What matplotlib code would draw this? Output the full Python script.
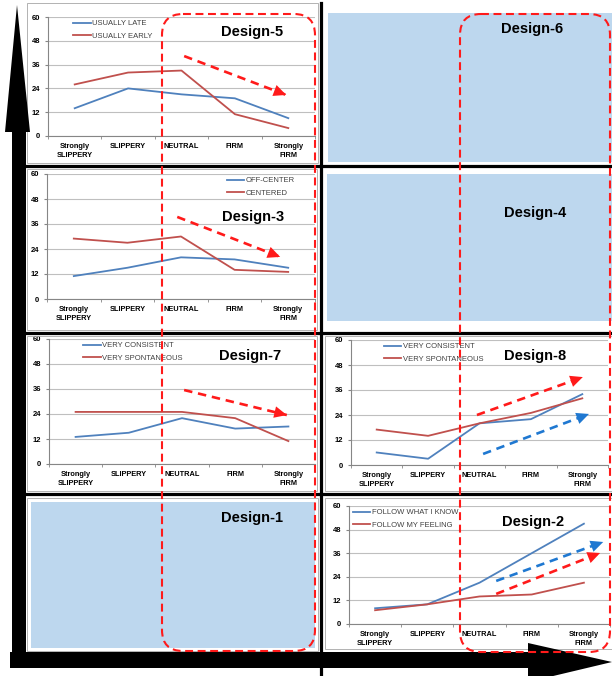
import matplotlib
matplotlib.use('Agg')
import matplotlib.pyplot as plt
from matplotlib.patches import FancyBboxPatch, Polygon, Rectangle

plt.rcParams['font.family'] = ['Liberation Sans', 'DejaVu Sans']

# data
categories = ['Strongly\nSLIPPERY', 'SLIPPERY', 'NEUTRAL', 'FIRM', 'Strongly\nFIRM']
yticks = [0, 12, 24, 36, 48, 60]

d5_late = [14, 24, 21, 19, 9]
d5_early = [26, 32, 33, 11, 4]
d3_off = [11, 15, 20, 19, 15]
d3_centered = [29, 27, 30, 14, 13]
d7_consistent = [13, 15, 22, 17, 18]
d7_spontaneous = [25, 25, 25, 22, 11]
d8_consistent = [6, 3, 20, 22, 34]
d8_spontaneous = [17, 14, 20, 25, 32]
d2_know = [8, 10, 21, 36, 51]
d2_feeling = [7, 10, 14, 15, 21]

BLUE = '#4F81BD'
RED = '#C0504D'
ARROW_RED = '#FF1A1A'
ARROW_BLUE = '#1F78D1'
PANEL = '#BDD7EE'

W, H = 612, 676
fig = plt.figure(figsize=(W / 100, H / 100), dpi=100)


def rect(x0, y0, x1, y1):
    # pixel box (top-left origin) -> figure fraction
    return [x0 / W, 1 - y1 / H, (x1 - x0) / W, (y1 - y0) / H]


def make_chart(box, blue_vals, red_vals, labels, leg_x, leg_y=0.975):
    ax = fig.add_axes(rect(*box), zorder=2)
    x = [i + 0.5 for i in range(len(categories))]
    ax.plot(x, blue_vals, color=BLUE, lw=1.3, label=labels[0], zorder=3)
    ax.plot(x, red_vals, color=RED, lw=1.3, label=labels[1], zorder=3)
    ax.set_xlim(0, 5)
    ax.set_ylim(0, 60)
    ax.set_yticks(yticks)
    ax.set_xticks(x)
    ax.set_xticklabels(categories, fontsize=5.3, fontweight='bold', linespacing=1.5)
    ax.set_xticks(range(6), minor=True)
    ax.tick_params(axis='x', which='major', length=0, pad=5)
    ax.tick_params(axis='x', which='minor', length=2.5, color='#868686')
    ax.tick_params(axis='y', length=2.5, color='#868686', pad=3, labelsize=5.5)
    for t in ax.get_yticklabels():
        t.set_fontweight('bold')
    ax.grid(axis='y', color='#BFBFBF', lw=0.8)
    ax.set_axisbelow(True)
    for s in ['top', 'right']:
        ax.spines[s].set_visible(False)
    for s in ['left', 'bottom']:
        ax.spines[s].set_color('#868686')
        ax.spines[s].set_linewidth(0.8)
    leg = ax.legend(loc='upper left', bbox_to_anchor=(leg_x, leg_y), frameon=False,
                    fontsize=5.5, handlelength=2.3, handletextpad=0.2,
                    labelspacing=0.65, borderaxespad=0, borderpad=0)
    for t in leg.get_texts():
        t.set_color('#404040')
    return ax


def trend_arrow(ax, start, end, color):
    ax.plot([start[0], end[0]], [start[1], end[1]], color=color, lw=1.9,
            linestyle=(0, (3.2, 2.2)), clip_on=False, zorder=5)
    ax.annotate('', xy=end, xytext=(end[0] - (end[0] - start[0]) * 0.1,
                                    end[1] - (end[1] - start[1]) * 0.1),
                arrowprops=dict(arrowstyle='-|>,head_length=0.75,head_width=0.35',
                                color=color, lw=0, shrinkA=0, shrinkB=0,
                                mutation_scale=12),
                annotation_clip=False, zorder=6)


ax5 = make_chart((48, 17, 315, 136), d5_late, d5_early, ['USUALLY LATE', 'USUALLY EARLY'], 0.095)
trend_arrow(ax5, (2.55, 40.3), (4.46, 20.7), ARROW_RED)

ax3 = make_chart((47, 174, 315, 299), d3_off, d3_centered, ['OFF-CENTER', 'CENTERED'], 0.67)
trend_arrow(ax3, (2.43, 39.4), (4.35, 20.2), ARROW_RED)

ax7 = make_chart((49, 339, 315, 464), d7_consistent, d7_spontaneous,
                 ['VERY CONSISTENT', 'VERY SPONTANEOUS'], 0.128)
trend_arrow(ax7, (2.54, 35.5), (4.47, 23.5), ARROW_RED)

ax8 = make_chart((351, 340, 608, 465), d8_consistent, d8_spontaneous,
                 ['VERY CONSISTENT', 'VERY SPONTANEOUS'], 0.128)
trend_arrow(ax8, (2.45, 24.0), (4.51, 42.2), ARROW_RED)
trend_arrow(ax8, (2.57, 5.3), (4.63, 24.5), ARROW_BLUE)

ax2 = make_chart((349, 506, 610, 624), d2_know, d2_feeling,
                 ['FOLLOW WHAT I KNOW', 'FOLLOW MY FEELING'], 0.015)
trend_arrow(ax2, (2.82, 21.9), (4.87, 41.7), ARROW_BLUE)
trend_arrow(ax2, (2.82, 15.3), (4.81, 36.1), ARROW_RED)

# overlay in pixel units for frames, panels, arrows and highlights
ov = fig.add_axes([0, 0, 1, 1], zorder=10)
ov.set_xlim(0, W)
ov.set_ylim(H, 0)
ov.axis('off')
ov.patch.set_visible(False)

# chart area frames
for x0, y0, x1, y1 in [(27, 3, 318, 163), (27, 169, 317, 330), (27, 336, 317, 491),
                       (325, 336, 612, 491), (325, 498, 612, 649), (27, 498, 318, 651)]:
    ov.add_patch(Rectangle((x0, y0), x1 - x0, y1 - y0, fill=False, ec='#A6A6A6', lw=0.6))

# empty design cells
for x0, y0, x1, y1 in [(328, 13, 612, 162), (327, 174, 612, 321), (31, 502, 315, 648)]:
    ov.add_patch(Rectangle((x0, y0), x1 - x0, y1 - y0, color=PANEL, lw=0, zorder=1))

# separators
ov.plot([321, 321], [3, H], color='black', lw=2.3, zorder=2)
for yy in [166, 333, 494]:
    ov.plot([27, W], [yy, yy], color='black', lw=2.3, zorder=2)

# big axis arrows
ov.add_patch(Polygon([(12, 668), (12, 132), (5, 132), (17, 5), (30, 132), (26, 132), (26, 668)],
                     closed=True, color='black', lw=0, zorder=3))
ov.add_patch(Polygon([(10, 652), (528, 652), (528, 643), (612, 662), (528, 682), (528, 668), (10, 668)],
                     closed=True, color='black', lw=0, zorder=3))

# highlighted columns
for x0, y0, x1, y1 in [(162, 14, 315, 651), (460, 14, 610, 652)]:
    ov.add_patch(FancyBboxPatch((x0, y0), x1 - x0, y1 - y0,
                                boxstyle='round,pad=0,rounding_size=21',
                                fill=False, ec=ARROW_RED, lw=1.5,
                                linestyle=(0, (3.8, 2.2)), zorder=4))

# design labels
for name, xx, yy in [('Design-5', 252, 32), ('Design-6', 532, 29), ('Design-3', 253, 217),
                     ('Design-4', 535, 213), ('Design-7', 250, 356), ('Design-8', 535, 356),
                     ('Design-1', 252, 518), ('Design-2', 533, 522)]:
    ov.text(xx, yy, name, ha='center', va='center', fontsize=10.5,
            fontweight='bold', color='black', zorder=6)

fig.savefig('out.png', dpi=100)
